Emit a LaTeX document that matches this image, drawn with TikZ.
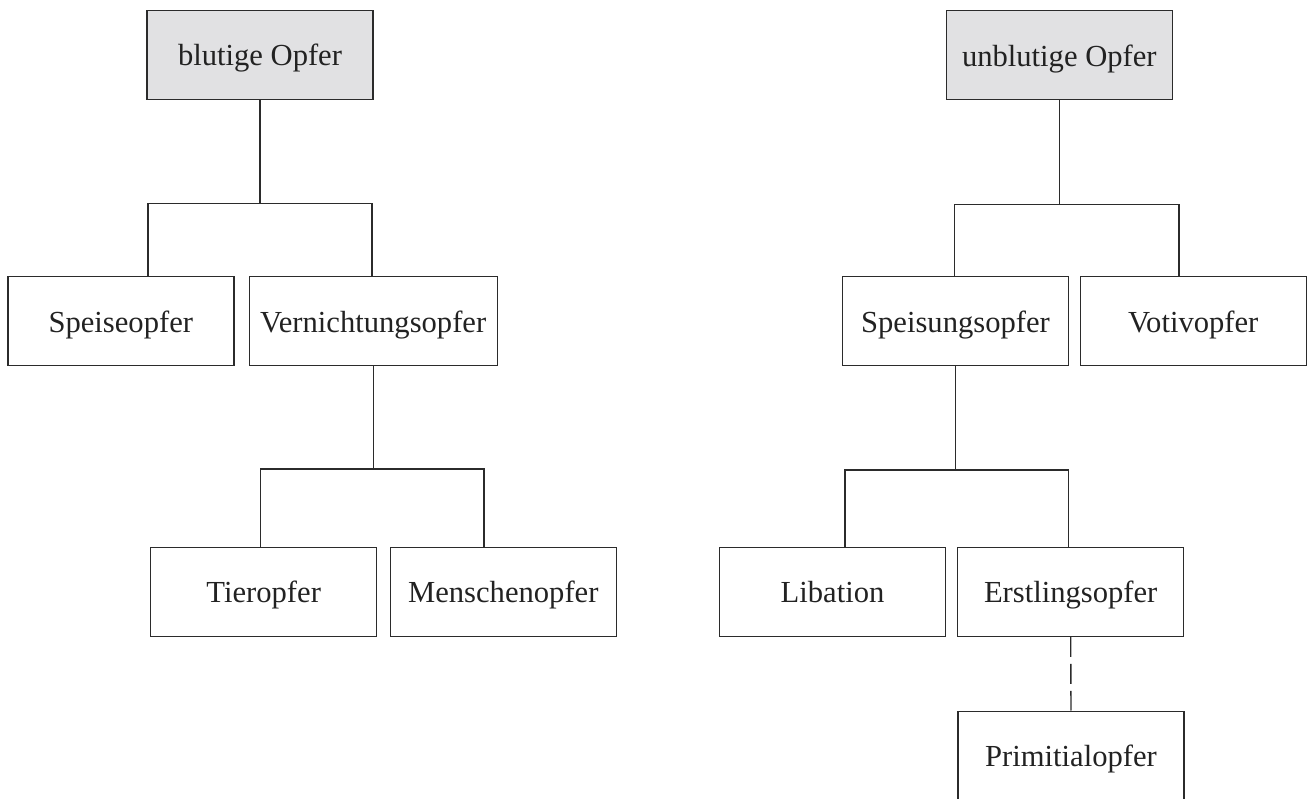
\documentclass[tikz,border=0pt]{standalone}
\usepackage{fontspec}
\setmainfont{Liberation Serif}
\definecolor{linec}{HTML}{2B2B2B}
\definecolor{boxfill}{HTML}{E1E1E3}
\definecolor{txtc}{HTML}{222222}
\begin{document}
\begin{tikzpicture}[x=1pt,y=-1pt,
  box/.style={draw=linec, line width=1.4pt, text=txtc, inner sep=0pt,
    minimum width=226pt, minimum height=89pt, text height=21.5pt, text depth=0pt,
    font=\fontsize{30.6}{36}\selectfont},
  topbox/.style={box, fill=boxfill},
  conn/.style={draw=linec, line width=1.4pt},
  dashconn/.style={conn, dash pattern=on 20pt off 7pt}]
\useasboundingbox (0,0) rectangle (1310,799);
% left tree
\node[topbox] (bO) at (260,55) {blutige Opfer};
\node[box] (Sp) at (120.8,321.3) {Speiseopfer};
\node[box, minimum width=248pt] (Ve) at (373.2,321.3) {Vernichtungsopfer};
\node[box] (Ti) at (263.7,591.7) {Tieropfer};
\node[box] (Me) at (503.3,591.7) {Menschenopfer};
% right tree
\node[topbox] (uO) at (1059.3,55.3) {unblutige Opfer};
\node[box] (Su) at (955.5,321.3) {Speisungsopfer};
\node[box] (Vo) at (1193.2,321.3) {Votivopfer};
\node[box] (Li) at (832.5,591.7) {Libation};
\node[box] (Er) at (1070.7,591.7) {Erstlingsopfer};
\node[box] (Pr) at (1071,755.7) {Primitialopfer};
% junction coordinates
\coordinate (a1) at (148,203.3);
\coordinate (a2) at (372,203.3);
\coordinate (c1) at (260.7,469);
\coordinate (c2) at (484,469);
\coordinate (d1) at (954.3,204.7);
\coordinate (d2) at (1179,204.7);
\coordinate (e1) at (845,470);
\coordinate (e2) at (1068.7,470);
% connectors
\draw[conn] (bO.south) -- (bO.south |- a1);
\draw[conn] (a1 |- Sp.north) -- (a1) -- (a2) -- (a2 |- Ve.north);
\draw[conn] (Ve.south) -- (Ve.south |- c1);
\draw[conn] (c1 |- Ti.north) -- (c1) -- (c2) -- (c2 |- Me.north);
\draw[conn] (uO.south) -- (uO.south |- d1);
\draw[conn] (d1 |- Su.north) -- (d1) -- (d2) -- (d2 |- Vo.north);
\draw[conn] (Su.south) -- (Su.south |- e1);
\draw[conn] (e1 |- Li.north) -- (e1) -- (e2) -- (e2 |- Er.north);
\draw[dashconn] (Er.south) -- (Pr.north);
\end{tikzpicture}
\end{document}
